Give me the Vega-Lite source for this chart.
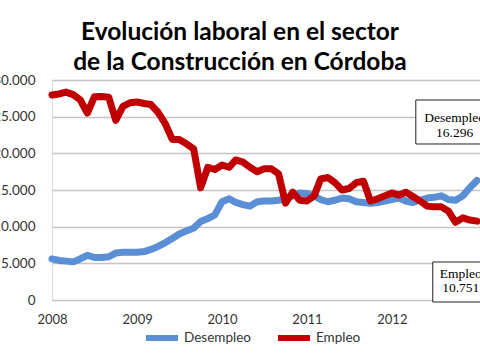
{
  "$schema": "https://vega.github.io/schema/vega-lite/v6.json",
  "width": 428,
  "height": 220,
  "autosize": {"type": "none"},
  "padding": {"left": 52, "top": 80, "right": 0, "bottom": 60},
  "background": "white",
  "title": {
    "text": ["Evolución laboral en el sector", "de la Construcción en Córdoba"],
    "font": "Lato", "fontSize": 24.5, "fontWeight": "bold", "color": "black",
    "anchor": "middle", "dx": -26, "offset": -2, "lineHeight": 30
  },
  "datasets": {
    "series": [
      {"fecha": "2008-01-01", "serie": "Desempleo", "valor": 5600},
      {"fecha": "2008-02-01", "serie": "Desempleo", "valor": 5400},
      {"fecha": "2008-03-01", "serie": "Desempleo", "valor": 5300},
      {"fecha": "2008-04-01", "serie": "Desempleo", "valor": 5200},
      {"fecha": "2008-05-01", "serie": "Desempleo", "valor": 5600},
      {"fecha": "2008-06-01", "serie": "Desempleo", "valor": 6100},
      {"fecha": "2008-07-01", "serie": "Desempleo", "valor": 5800},
      {"fecha": "2008-08-01", "serie": "Desempleo", "valor": 5800},
      {"fecha": "2008-09-01", "serie": "Desempleo", "valor": 5900},
      {"fecha": "2008-10-01", "serie": "Desempleo", "valor": 6400},
      {"fecha": "2008-11-01", "serie": "Desempleo", "valor": 6500},
      {"fecha": "2008-12-01", "serie": "Desempleo", "valor": 6500},
      {"fecha": "2009-01-01", "serie": "Desempleo", "valor": 6500},
      {"fecha": "2009-02-01", "serie": "Desempleo", "valor": 6600},
      {"fecha": "2009-03-01", "serie": "Desempleo", "valor": 6900},
      {"fecha": "2009-04-01", "serie": "Desempleo", "valor": 7300},
      {"fecha": "2009-05-01", "serie": "Desempleo", "valor": 7800},
      {"fecha": "2009-06-01", "serie": "Desempleo", "valor": 8400},
      {"fecha": "2009-07-01", "serie": "Desempleo", "valor": 9000},
      {"fecha": "2009-08-01", "serie": "Desempleo", "valor": 9400},
      {"fecha": "2009-09-01", "serie": "Desempleo", "valor": 9800},
      {"fecha": "2009-10-01", "serie": "Desempleo", "valor": 10700},
      {"fecha": "2009-11-01", "serie": "Desempleo", "valor": 11100},
      {"fecha": "2009-12-01", "serie": "Desempleo", "valor": 11600},
      {"fecha": "2010-01-01", "serie": "Desempleo", "valor": 13400},
      {"fecha": "2010-02-01", "serie": "Desempleo", "valor": 13800},
      {"fecha": "2010-03-01", "serie": "Desempleo", "valor": 13300},
      {"fecha": "2010-04-01", "serie": "Desempleo", "valor": 13000},
      {"fecha": "2010-05-01", "serie": "Desempleo", "valor": 12800},
      {"fecha": "2010-06-01", "serie": "Desempleo", "valor": 13400},
      {"fecha": "2010-07-01", "serie": "Desempleo", "valor": 13500},
      {"fecha": "2010-08-01", "serie": "Desempleo", "valor": 13500},
      {"fecha": "2010-09-01", "serie": "Desempleo", "valor": 13600},
      {"fecha": "2010-10-01", "serie": "Desempleo", "valor": 13800},
      {"fecha": "2010-11-01", "serie": "Desempleo", "valor": 14200},
      {"fecha": "2010-12-01", "serie": "Desempleo", "valor": 14600},
      {"fecha": "2011-01-01", "serie": "Desempleo", "valor": 14500},
      {"fecha": "2011-02-01", "serie": "Desempleo", "valor": 14200},
      {"fecha": "2011-03-01", "serie": "Desempleo", "valor": 13700},
      {"fecha": "2011-04-01", "serie": "Desempleo", "valor": 13400},
      {"fecha": "2011-05-01", "serie": "Desempleo", "valor": 13600},
      {"fecha": "2011-06-01", "serie": "Desempleo", "valor": 13900},
      {"fecha": "2011-07-01", "serie": "Desempleo", "valor": 13800},
      {"fecha": "2011-08-01", "serie": "Desempleo", "valor": 13400},
      {"fecha": "2011-09-01", "serie": "Desempleo", "valor": 13300},
      {"fecha": "2011-10-01", "serie": "Desempleo", "valor": 13200},
      {"fecha": "2011-11-01", "serie": "Desempleo", "valor": 13300},
      {"fecha": "2011-12-01", "serie": "Desempleo", "valor": 13500},
      {"fecha": "2012-01-01", "serie": "Desempleo", "valor": 13700},
      {"fecha": "2012-02-01", "serie": "Desempleo", "valor": 13900},
      {"fecha": "2012-03-01", "serie": "Desempleo", "valor": 13500},
      {"fecha": "2012-04-01", "serie": "Desempleo", "valor": 13300},
      {"fecha": "2012-05-01", "serie": "Desempleo", "valor": 13600},
      {"fecha": "2012-06-01", "serie": "Desempleo", "valor": 13900},
      {"fecha": "2012-07-01", "serie": "Desempleo", "valor": 14000},
      {"fecha": "2012-08-01", "serie": "Desempleo", "valor": 14200},
      {"fecha": "2012-09-01", "serie": "Desempleo", "valor": 13700},
      {"fecha": "2012-10-01", "serie": "Desempleo", "valor": 13600},
      {"fecha": "2012-11-01", "serie": "Desempleo", "valor": 14200},
      {"fecha": "2012-12-01", "serie": "Desempleo", "valor": 15300},
      {"fecha": "2013-01-01", "serie": "Desempleo", "valor": 16296},
      {"fecha": "2008-01-01", "serie": "Empleo", "valor": 27950},
      {"fecha": "2008-02-01", "serie": "Empleo", "valor": 28100},
      {"fecha": "2008-03-01", "serie": "Empleo", "valor": 28350},
      {"fecha": "2008-04-01", "serie": "Empleo", "valor": 28000},
      {"fecha": "2008-05-01", "serie": "Empleo", "valor": 27300},
      {"fecha": "2008-06-01", "serie": "Empleo", "valor": 25500},
      {"fecha": "2008-07-01", "serie": "Empleo", "valor": 27700},
      {"fecha": "2008-08-01", "serie": "Empleo", "valor": 27750},
      {"fecha": "2008-09-01", "serie": "Empleo", "valor": 27650},
      {"fecha": "2008-10-01", "serie": "Empleo", "valor": 24500},
      {"fecha": "2008-11-01", "serie": "Empleo", "valor": 26400},
      {"fecha": "2008-12-01", "serie": "Empleo", "valor": 26900},
      {"fecha": "2009-01-01", "serie": "Empleo", "valor": 27000},
      {"fecha": "2009-02-01", "serie": "Empleo", "valor": 26800},
      {"fecha": "2009-03-01", "serie": "Empleo", "valor": 26650},
      {"fecha": "2009-04-01", "serie": "Empleo", "valor": 25600},
      {"fecha": "2009-05-01", "serie": "Empleo", "valor": 24100},
      {"fecha": "2009-06-01", "serie": "Empleo", "valor": 21900},
      {"fecha": "2009-07-01", "serie": "Empleo", "valor": 21900},
      {"fecha": "2009-08-01", "serie": "Empleo", "valor": 21300},
      {"fecha": "2009-09-01", "serie": "Empleo", "valor": 20600},
      {"fecha": "2009-10-01", "serie": "Empleo", "valor": 15300},
      {"fecha": "2009-11-01", "serie": "Empleo", "valor": 18100},
      {"fecha": "2009-12-01", "serie": "Empleo", "valor": 17800},
      {"fecha": "2010-01-01", "serie": "Empleo", "valor": 18400},
      {"fecha": "2010-02-01", "serie": "Empleo", "valor": 18100},
      {"fecha": "2010-03-01", "serie": "Empleo", "valor": 19100},
      {"fecha": "2010-04-01", "serie": "Empleo", "valor": 18800},
      {"fecha": "2010-05-01", "serie": "Empleo", "valor": 18100},
      {"fecha": "2010-06-01", "serie": "Empleo", "valor": 17500},
      {"fecha": "2010-07-01", "serie": "Empleo", "valor": 17900},
      {"fecha": "2010-08-01", "serie": "Empleo", "valor": 17900},
      {"fecha": "2010-09-01", "serie": "Empleo", "valor": 17200},
      {"fecha": "2010-10-01", "serie": "Empleo", "valor": 13200},
      {"fecha": "2010-11-01", "serie": "Empleo", "valor": 14700},
      {"fecha": "2010-12-01", "serie": "Empleo", "valor": 13600},
      {"fecha": "2011-01-01", "serie": "Empleo", "valor": 13500},
      {"fecha": "2011-02-01", "serie": "Empleo", "valor": 14200},
      {"fecha": "2011-03-01", "serie": "Empleo", "valor": 16500},
      {"fecha": "2011-04-01", "serie": "Empleo", "valor": 16700},
      {"fecha": "2011-05-01", "serie": "Empleo", "valor": 16000},
      {"fecha": "2011-06-01", "serie": "Empleo", "valor": 15000},
      {"fecha": "2011-07-01", "serie": "Empleo", "valor": 15200},
      {"fecha": "2011-08-01", "serie": "Empleo", "valor": 16000},
      {"fecha": "2011-09-01", "serie": "Empleo", "valor": 16200},
      {"fecha": "2011-10-01", "serie": "Empleo", "valor": 13500},
      {"fecha": "2011-11-01", "serie": "Empleo", "valor": 13800},
      {"fecha": "2011-12-01", "serie": "Empleo", "valor": 14200},
      {"fecha": "2012-01-01", "serie": "Empleo", "valor": 14600},
      {"fecha": "2012-02-01", "serie": "Empleo", "valor": 14300},
      {"fecha": "2012-03-01", "serie": "Empleo", "valor": 14700},
      {"fecha": "2012-04-01", "serie": "Empleo", "valor": 14100},
      {"fecha": "2012-05-01", "serie": "Empleo", "valor": 13500},
      {"fecha": "2012-06-01", "serie": "Empleo", "valor": 12800},
      {"fecha": "2012-07-01", "serie": "Empleo", "valor": 12700},
      {"fecha": "2012-08-01", "serie": "Empleo", "valor": 12700},
      {"fecha": "2012-09-01", "serie": "Empleo", "valor": 12100},
      {"fecha": "2012-10-01", "serie": "Empleo", "valor": 10600},
      {"fecha": "2012-11-01", "serie": "Empleo", "valor": 11200},
      {"fecha": "2012-12-01", "serie": "Empleo", "valor": 10900},
      {"fecha": "2013-01-01", "serie": "Empleo", "valor": 10751}
    ],
    "boxes": [
      {"fecha": "2012-04-13", "fecha2": "2013-12-31", "valor": 27273, "valor2": 21273},
      {"fecha": "2012-06-25", "fecha2": "2013-12-31", "valor": 5182, "valor2": -273}
    ],
    "notes": [
      {"fecha": "2012-09-27", "valor": 24273, "texto": "Desempleo"},
      {"fecha": "2012-09-27", "valor": 22227, "texto": "16.296"},
      {"fecha": "2012-10-23", "valor": 3000, "texto": "Empleo"},
      {"fecha": "2012-10-23", "valor": 1091, "texto": "10.751"}
    ]
  },
  "encoding": {
    "x": {
      "field": "fecha", "type": "temporal", "title": null,
      "scale": {"domain": ["2008-01-01", "2013-01-14"]},
      "axis": {
        "format": "%Y",
        "values": [
          {"year": 2008, "month": 1, "date": 1, "utc": true},
          {"year": 2009, "month": 1, "date": 1, "utc": true},
          {"year": 2010, "month": 1, "date": 1, "utc": true},
          {"year": 2011, "month": 1, "date": 1, "utc": true},
          {"year": 2012, "month": 1, "date": 1, "utc": true}
        ],
        "tickCount": 10,
        "grid": false, "domain": false, "ticks": false, "tickSize": 0,
        "labelPadding": 13, "labelFont": "Lato", "labelFontSize": 13,
        "labelColor": "#333333", "labelFlush": false, "labelOverlap": false
      }
    },
    "y": {
      "field": "valor", "type": "quantitative", "title": null,
      "scale": {"domain": [0, 30000], "nice": false},
      "axis": {
        "values": [0, 5000, 10000, 15000, 20000, 25000, 30000],
        "tickCount": 10,
        "labelExpr": "replace(format(datum.value, ','), ',', '.')",
        "labelOverlap": false,
        "domain": false, "ticks": false, "tickSize": 0, "labelPadding": 17,
        "labelFont": "Lato", "labelFontSize": 13.5, "labelColor": "#333333",
        "gridColor": "#c4c4c4", "gridWidth": 1.5
      }
    }
  },
  "layer": [
    {
      "data": {"name": "series"},
      "mark": {"type": "line", "strokeWidth": 7, "strokeCap": "round", "strokeJoin": "round"},
      "encoding": {
        "color": {
          "field": "serie", "type": "nominal",
          "scale": {"domain": ["Desempleo", "Empleo"], "range": ["#5b8fd5", "#c00000"]},
          "legend": {
            "orient": "none", "legendX": 91, "legendY": 239, "direction": "horizontal",
            "title": null, "symbolType": "stroke", "symbolSize": 1024, "symbolStrokeWidth": 6,
            "labelFont": "Lato", "labelFontSize": 13.5, "labelColor": "#333333",
            "labelOffset": 3, "columnPadding": 15
          }
        }
      }
    },
    {
      "data": {"name": "boxes"},
      "mark": {"type": "rect", "fill": "white", "stroke": "#222222", "strokeWidth": 1},
      "encoding": {
        "x2": {"field": "fecha2"},
        "y2": {"field": "valor2"}
      }
    },
    {
      "data": {"name": "notes"},
      "mark": {"type": "text", "font": "Liberation Serif", "fontSize": 13.5, "align": "center", "baseline": "alphabetic", "color": "black"},
      "encoding": {
        "text": {"field": "texto"}
      }
    }
  ]
}
